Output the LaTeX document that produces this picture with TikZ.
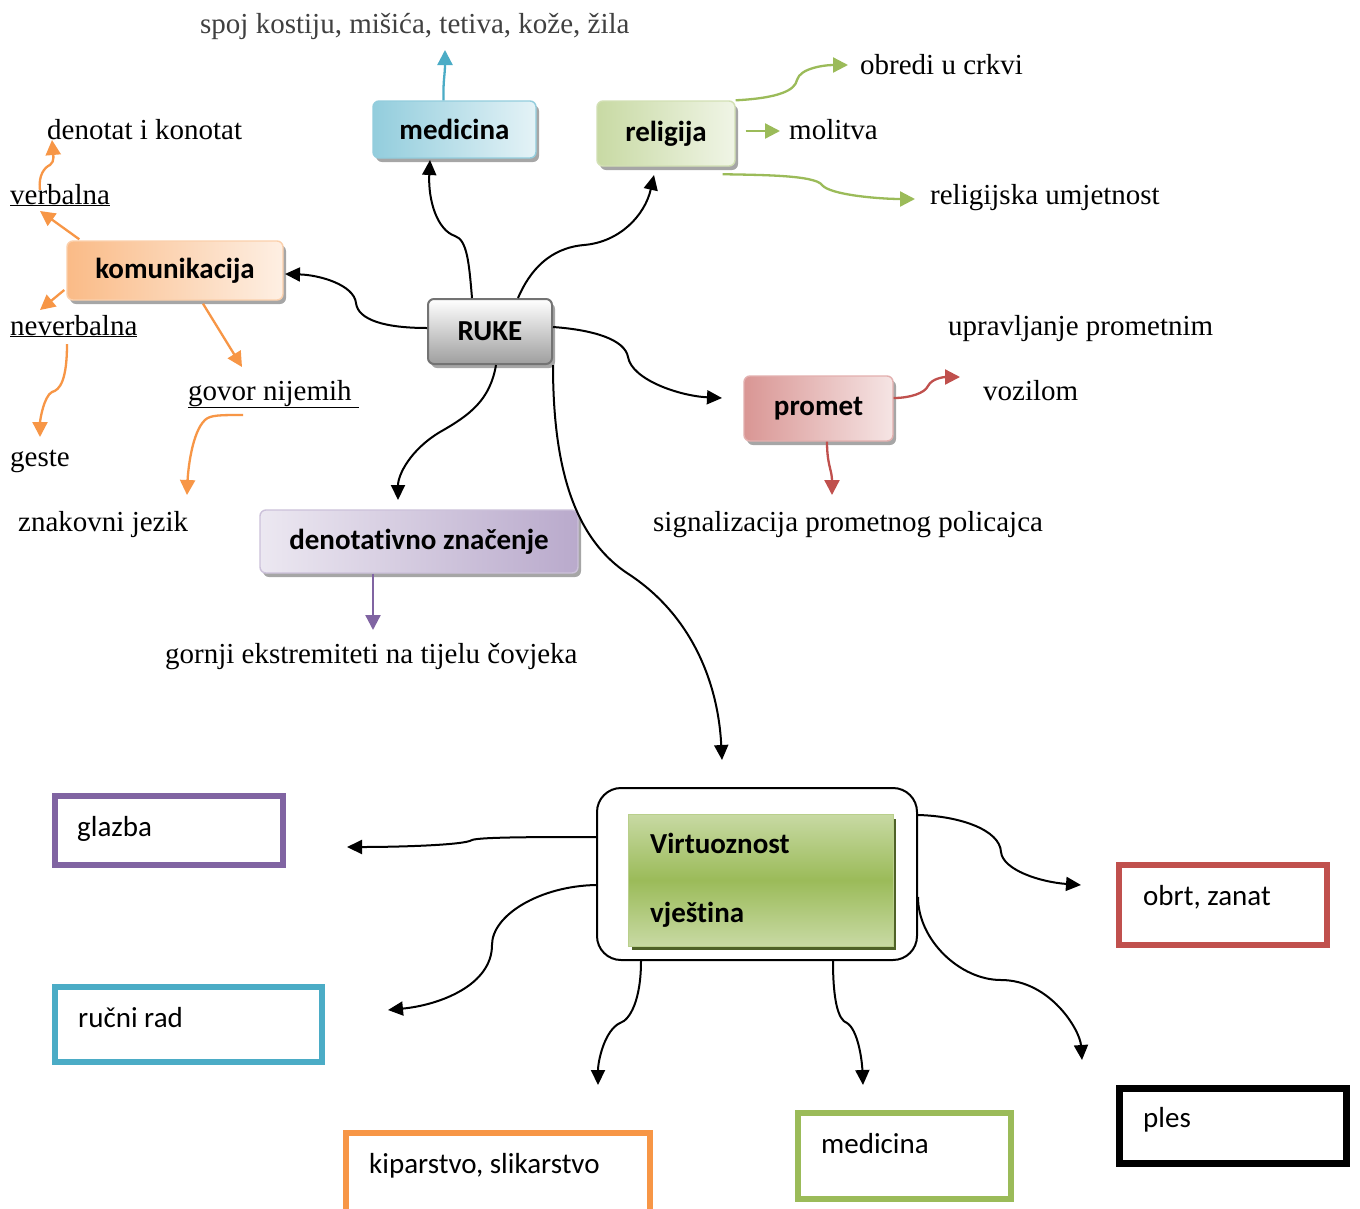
\documentclass[tikz,border=0pt]{standalone}
\usepackage{fontspec}
\setmainfont{Liberation Serif}
\newfontfamily\calib[Ligatures={NoCommon}]{Carlito}
\usetikzlibrary{arrows.meta,shadows,calc}
\definecolor{cOr}{HTML}{F79646}
\definecolor{cBl}{HTML}{4BACC6}
\definecolor{cGr}{HTML}{9BBB59}
\definecolor{cRe}{HTML}{C0504D}
\definecolor{cPu}{HTML}{8064A2}
\definecolor{cGrD}{HTML}{4F6228}
\begin{document}
\begin{tikzpicture}[x=1pt,y=-1pt,
  mbox/.style={rounded corners=6pt, draw, line width=1.4pt, inner sep=0pt,
     font=\calib\bfseries\fontsize{29}{34}\selectfont,
     drop shadow={shadow xshift=3pt, shadow yshift=-4pt, fill=black, opacity=0.35}},
  txt/.style={anchor=base west, inner sep=0pt, font=\fontsize{29}{34}\selectfont},
  btxt/.style={anchor=base west, inner sep=0pt, font=\calib\fontsize{29}{34}\selectfont},
  bbox/.style={draw, line width=6pt, inner sep=0pt},
  blk/.style={line width=2pt, -{Triangle[length=15pt,width=14pt]}},
  col/.style={line width=2.3pt, -{Triangle[length=15pt,width=15pt]}}]
\useasboundingbox (0,0) rectangle (1360,1208);
\clip (0,0) rectangle (1360,1208);
\fill[white] (0,0) rectangle (1360,1208);

% ---- main colored boxes
\node[mbox, draw=cBl!60, left color=cBl!60, right color=cBl!15,
      minimum width=163pt, minimum height=57pt] (med) at (454.5,129.5) {medicina};
\node[mbox, draw=cGr!45, left color=cGr!55, right color=cGr!15,
      minimum width=138pt, minimum height=65pt] (rel) at (666,133.5) {religija};
\node[mbox, draw=cOr!45, left color=cOr!65, right color=cOr!15,
      minimum width=216pt, minimum height=59pt] (kom) at (175,270.5) {komunikacija};
\node[mbox, draw=black!55, line width=2pt, top color=white, bottom color=black!38,
      minimum width=124pt, minimum height=65pt] (ruke) at (490,331.5) {RUKE};
\node[mbox, draw=cRe!45, left color=cRe!60, right color=cRe!15,
      minimum width=149pt, minimum height=65pt] (prom) at (818.5,408.5) {promet};
\node[mbox, draw=cPu!40, left color=cPu!15, right color=cPu!55,
      minimum width=318pt, minimum height=63pt] (den) at (419,541.5) {denotativno značenje};

% ---- texts
\node[txt, text=black!75] (tSpoj) at (200,33) {spoj kostiju, mišića, tetiva, kože, žila};
\node[txt] (tObr) at (860,74) {obredi u crkvi};
\node[txt] (tMol) at (789,139) {molitva};
\node[txt] (tRU) at (930,204) {religijska umjetnost};
\node[txt] (tDK) at (47,139) {denotat i konotat};
\node[txt] (tVerb) at (10,204) {\underline{verbalna}};
\node[txt] (tNev) at (10,335) {\underline{neverbalna}};
\node[txt] (tGes) at (10,466) {geste};
\node[txt] (tGov) at (188,400) {\underline{govor nijemih\ }};
\node[txt] (tZn) at (18,531) {znakovni jezik};
\node[txt] (tUpr) at (948,335) {upravljanje prometnim};
\node[txt] (tVoz) at (983,400) {vozilom};
\node[txt] (tSig) at (653,531) {signalizacija prometnog policajca};
\node[txt] (tGor) at (165,663) {gornji ekstremiteti na tijelu čovjeka};

% ---- virtuoznost
\node[draw, line width=2pt, rounded corners=24pt, minimum width=320pt, minimum height=172pt]
   (vbox) at (757,874) {};
\fill[cGrD] (632,819) rectangle (896,950);
\node[draw=cGr!70, line width=1pt, top color=cGr!55, bottom color=cGr!55, middle color=cGr,
   minimum width=265pt, minimum height=132pt, inner sep=0pt] (virt) at (760.5,880) {};
\node[btxt, font=\calib\bfseries\fontsize{29}{34}\selectfont] (tV1) at (650,853) {Virtuoznost};
\node[btxt, font=\calib\bfseries\fontsize{29}{34}\selectfont] (tV2) at (650,922) {vještina};

% ---- bottom boxes
\node[bbox, draw=cPu, minimum width=228pt, minimum height=69pt] (gla) at (169,830.5) {};
\node[btxt] (tGla) at (77,836) {glazba};
\node[bbox, draw=cBl, minimum width=267pt, minimum height=75pt] (ruc) at (188.5,1024.5) {};
\node[btxt] (tRuc) at (78,1027) {ručni rad};
\node[bbox, draw=cOr, minimum width=304pt, minimum height=87pt] (kip) at (498,1176.5) {};
\node[btxt] (tKip) at (369,1173) {kiparstvo, slikarstvo};
\node[bbox, draw=cGr, minimum width=213pt, minimum height=86pt] (med2) at (904.5,1156) {};
\node[btxt] (tMed2) at (821,1153) {medicina};
\node[bbox, draw=cRe, minimum width=208pt, minimum height=80pt] (obrt) at (1223,905) {};
\node[btxt] (tObrt) at (1143,905) {obrt, zanat};
\node[bbox, draw=black, line width=7pt, minimum width=227pt, minimum height=75pt] (ples) at (1233,1126) {};
\node[btxt] (tPles) at (1143,1127) {ples};

% ---- free arrow ends
\coordinate (eMed) at (430,160);
\coordinate (eRel) at (654,175);
\coordinate (eKom) at (285,274);
\coordinate (eProm) at (722,398);
\coordinate (eDen) at (398,500);
\coordinate (eVirt) at (722,760);
\coordinate (eSpoj) at (445,50);
\coordinate (eObr) at (848,65);
\coordinate (eMol) at (780,131);
\coordinate (eRU) at (915,199);
\coordinate (eVerb) at (40,211);
\coordinate (eDK) at (52,140);
\coordinate (eNev) at (40,310);
\coordinate (eGes) at (40,437);
\coordinate (eGov) at (242,367);
\coordinate (eZn) at (187,495);
\coordinate (eVoz) at (960,377);
\coordinate (eSig) at (832,495);
\coordinate (eGor) at (373,630);
\coordinate (eGla) at (347,847);
\coordinate (eRuc) at (388,1010);
\coordinate (eKip) at (598,1085);
\coordinate (eMed2) at (863,1085);
\coordinate (eObrt) at (1081,885);
\coordinate (ePles) at (1082,1060);

% ---- black connectors from RUKE
\draw[blk] ($(ruke.north)+(-18,0)$) .. controls (469,262) and (467,240) .. (455,236)
   .. controls (437,230) and (428,200) .. (eMed);
\draw[blk] ($(ruke.north)+(28,0)$) .. controls (530,270) and (550,248) .. (584,245)
   .. controls (620,242) and (645,215) .. (eRel);
\draw[blk] ($(ruke.west)+(0,-3.5)$) .. controls (385,328) and (358,320) .. (356,303)
   .. controls (354,285) and (320,275) .. (eKom);
\draw[blk] ($(ruke.east)+(0,-4.5)$) .. controls (595,330) and (625,340) .. (628,357)
   .. controls (632,380) and (680,396) .. (eProm);
\draw[blk] ($(ruke.south)+(6,0)$) .. controls (490,400) and (470,415) .. (440,432)
   .. controls (410,450) and (398,475) .. (eDen);
\draw[blk] (ruke.south east) .. controls (553,470) and (575,540) .. (630,575)
   .. controls (690,615) and (718,680) .. (eVirt);

% ---- colored connectors
\draw[col, cBl] ($(med.north)+(-11,0)$) .. controls (443,80) and (445,75) .. (eSpoj);
\draw[col, cGr] (rel.north east) .. controls (780,98) and (795,90) .. (797,80)
   .. controls (800,68) and (825,65) .. (eObr);
\draw[col, cGr] ($(rel.east)+(10,-2.5)$) -- (eMol);
\draw[col, cGr] ($(rel.south east)+(-13,7.5)$) .. controls (760,175) and (815,175) .. (822,185)
   .. controls (830,195) and (880,199) .. (eRU);
\draw[col, cOr] ($(kom.north west)+(13,-1)$) -- (eVerb);
\draw[col, cOr] ($(tVerb.base west)+(30,-14)$) .. controls (38,175) and (45,167) .. (50,165)
   .. controls (55,162) and (53,152) .. (eDK);
\draw[col, cOr] ($(kom.west)+(-2,19.5)$) -- (eNev);
\draw[col, cOr] ($(tNev.base west)+(57,9)$) .. controls (67,380) and (60,390) .. (52,392)
   .. controls (44,396) and (40,420) .. (eGes);
\draw[col, cOr] ($(kom.south)+(28,3)$) -- (eGov);
\draw[col, cOr] ($(tGov.base west)+(55,15)$) .. controls (220,415) and (210,415) .. (205,420)
   .. controls (192,432) and (188,470) .. (eZn);
\draw[col, cRe] ($(prom.east)+(0,-10.5)$) .. controls (910,398) and (925,393) .. (928,386)
   .. controls (932,378) and (945,377) .. (eVoz);
\draw[col, cRe] ($(prom.south)+(8.5,0)$) .. controls (827,465) and (832,470) .. (eSig);
\draw[col, cPu] ($(den.south)+(-46,0)$) -- (eGor);

% ---- black connectors from Virtuoznost
\draw[blk] ($(vbox.west)+(0,-37)$) .. controls (540,837) and (480,837) .. (472,840)
   .. controls (465,845) and (400,847) .. (eGla);
\draw[blk] ($(vbox.west)+(0,11)$) .. controls (540,886) and (492,915) .. (492,945)
   .. controls (492,985) and (440,1005) .. (eRuc);
\draw[blk] ($(vbox.south)+(-116,0)$) .. controls (641,1000) and (630,1020) .. (620,1023)
   .. controls (605,1030) and (598,1060) .. (eKip);
\draw[blk] ($(vbox.south)+(76,0)$) .. controls (833,1000) and (838,1020) .. (847,1023)
   .. controls (858,1030) and (862,1060) .. (eMed2);
\draw[blk] ($(vbox.east)+(0,-59)$) .. controls (960,816) and (1000,830) .. (1001,852)
   .. controls (1003,870) and (1040,882) .. (eObrt);
\draw[blk] ($(vbox.east)+(0,23)$) .. controls (918,940) and (960,980) .. (1001,980)
   .. controls (1050,980) and (1080,1030) .. (ePles);
\end{tikzpicture}
\end{document}
